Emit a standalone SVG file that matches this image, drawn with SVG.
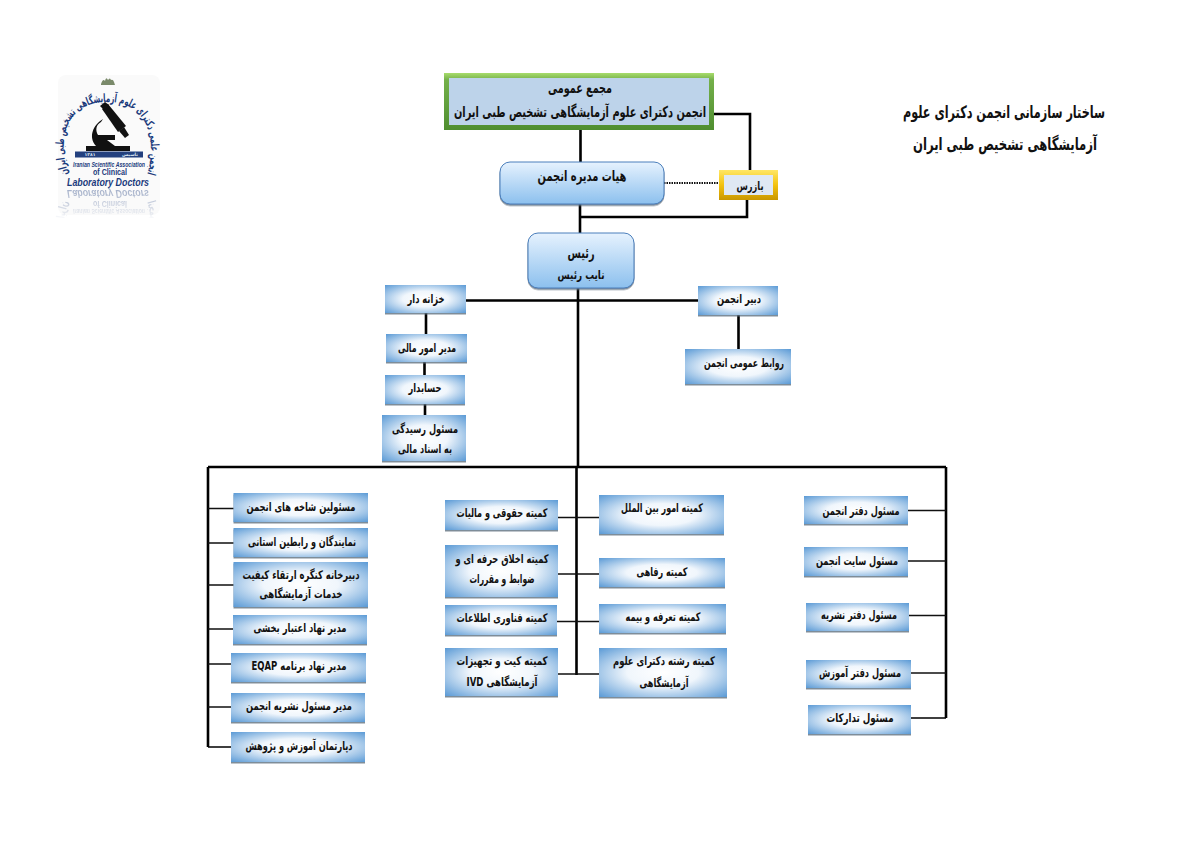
<svg xmlns="http://www.w3.org/2000/svg" width="1191" height="842" viewBox="0 0 1191 842">
<style>
text{font-family:"DejaVu Sans",sans-serif;font-weight:bold;fill:#111;text-anchor:middle;direction:rtl;font-size:12px}
.t{font-size:15px}
.big{font-size:17px}
.b{fill:url(#boxG);filter:url(#sh)}
.r{fill:url(#rndG);stroke:#4a7ebb;stroke-width:1;filter:url(#sh)}
.c{fill:none;stroke:#000;stroke-width:2.6}
.m{fill:none;stroke:#000;stroke-width:1.7}
.n{fill:none;stroke:#111;stroke-width:1.3}
.en{font-family:"Liberation Sans",sans-serif;direction:ltr;fill:#1b3a7c;font-style:italic}
.ring{fill:#1b3a7c;font-size:11.500px}
.tiny{font-size:4.500px;fill:#dfe8f3}
</style>
<defs>
<radialGradient id="boxG" cx=".5" cy=".5" r=".7"><stop offset="0" stop-color="#fff"/><stop offset=".4" stop-color="#f0f6fc"/><stop offset="1" stop-color="#5c9bd6"/></radialGradient>
<linearGradient id="rndG" x1="0" y1="0" x2="0" y2="1"><stop offset="0" stop-color="#e6f2fe"/><stop offset="1" stop-color="#8cc0ee"/></linearGradient>
<linearGradient id="grnG" x1="0" y1="0" x2="0" y2="1"><stop offset="0" stop-color="#a8dc6c"/><stop offset=".12" stop-color="#74b04a"/><stop offset="1" stop-color="#4f8e30"/></linearGradient>
<linearGradient id="yelG" x1="0" y1="0" x2="0" y2="1"><stop offset="0" stop-color="#ffe766"/><stop offset=".5" stop-color="#f3c20f"/><stop offset="1" stop-color="#c99700"/></linearGradient>
<filter id="sh" x="-5%" y="-5%" width="110%" height="120%"><feDropShadow dx="0" dy="1.500" stdDeviation=".7" flood-color="#5f6f80" flood-opacity=".8"/></filter>
<linearGradient id="fade" x1="0" y1="0" x2="0" y2="1"><stop offset="0" stop-color="#fff" stop-opacity=".4"/><stop offset="1" stop-color="#fff" stop-opacity=".03"/></linearGradient>
<mask id="fm" maskUnits="userSpaceOnUse" x="50" y="188" width="115" height="30"><rect x="50" y="188" width="115" height="30" fill="url(#fade)"/></mask>
<path id="arc" d="M70,178 C58,150 60,102 107,102 C154,102 156,150 146,178"/>
</defs>

<g id="connectors">
<path class="c" d="M580.500,129V162M714,114H750V170M580,204V233M747,200V217H580"/>
<path d="M664,183H719" fill="none" stroke="#111" stroke-width="2.200" stroke-dasharray="1.500 1"/>
<path class="c" d="M578,288V467M466,300.500H698M426,313V334M424.500,362V375M425,404V415M738.500,315V349"/>
<path class="c" d="M208,467H946M208,467V747M946,467V718M576.500,467V675"/>
<path class="m" d="M208,747H232M946,718H911"/>
<path class="n" d="M208,508.500H234M208,543H234M208,585H234M208,629H233M208,664H232M208,707H232"/>
<path class="n" d="M558,517.500H599M558,574H599M557,621.500H599M558,674H599"/>
<path class="n" d="M908,510.500H946M908,561H946M909,615.500H946M911,673H946"/>
</g>

<g id="n-majma"><rect x="444" y="73" width="270" height="57" fill="url(#grnG)"/><rect x="449" y="78" width="260" height="47" fill="#bdd3ea"/><text class="t" x="580" y="93" textLength="64" lengthAdjust="spacingAndGlyphs">مجمع عمومی</text><text class="t" x="580" y="117" textLength="252" lengthAdjust="spacingAndGlyphs">انجمن دکترای علوم آزمایشگاهی تشخیص طبی ایران</text></g>
<g id="n-hiat"><rect class="r" x="500" y="162" width="164" height="42" rx="10"/><text class="t" x="582" y="181" textLength="89" lengthAdjust="spacingAndGlyphs">هیات مدیره انجمن</text></g>
<g id="n-bazres"><rect x="719" y="170" width="59" height="30" fill="url(#yelG)"/><rect x="724" y="175" width="49" height="20" fill="#dfe8f3"/><text x="750" y="190" textLength="27" lengthAdjust="spacingAndGlyphs">بازرس</text></g>
<g id="n-rais"><rect class="r" x="528" y="233" width="106" height="55" rx="10"/><text x="581" y="258" textLength="27" lengthAdjust="spacingAndGlyphs" class="t">رئیس</text><text x="581" y="279" textLength="47" lengthAdjust="spacingAndGlyphs">نایب رئیس</text></g>

<g id="n-khazane"><rect class="b" x="385" y="285" width="81" height="28"/><text x="426" y="303" textLength="37" lengthAdjust="spacingAndGlyphs">خزانه دار</text></g>
<g id="n-omoor"><rect class="b" x="386" y="334" width="81" height="28"/><text x="427" y="352" textLength="58" lengthAdjust="spacingAndGlyphs">مدیر امور مالی</text></g>
<g id="n-hesabdar"><rect class="b" x="385" y="375" width="80" height="29"/><text x="425" y="392" textLength="33" lengthAdjust="spacingAndGlyphs">حسابدار</text></g>
<g id="n-residegi"><rect class="b" x="382" y="415" width="84" height="46"/><text x="425" y="433" textLength="66" lengthAdjust="spacingAndGlyphs">مسئول رسیدگی</text><text x="425" y="453" textLength="54" lengthAdjust="spacingAndGlyphs">به اسناد مالی</text></g>
<g id="n-dabir"><rect class="b" x="698" y="286" width="80" height="29"/><text x="739" y="303" textLength="44" lengthAdjust="spacingAndGlyphs">دبیر انجمن</text></g>
<g id="n-ravabet"><rect class="b" x="685" y="349" width="106" height="35"/><text x="744" y="367" textLength="80" lengthAdjust="spacingAndGlyphs">روابط عمومی انجمن</text></g>

<g id="n-l1"><rect class="b" x="233.500" y="493" width="134.500" height="29"/><text x="301" y="511" textLength="109" lengthAdjust="spacingAndGlyphs">مسئولین شاخه های انجمن</text></g>
<g id="n-l2"><rect class="b" x="233.500" y="528" width="134.500" height="29"/><text x="302" y="546" textLength="108" lengthAdjust="spacingAndGlyphs">نمایندگان و رابطین استانی</text></g>
<g id="n-l3"><rect class="b" x="233.500" y="562" width="134.500" height="45"/><text x="301" y="579" textLength="117" lengthAdjust="spacingAndGlyphs">دبیرخانه کنگره ارتقاء کیفیت</text><text x="301" y="598" textLength="83" lengthAdjust="spacingAndGlyphs">خدمات آزمایشگاهی</text></g>
<g id="n-l4"><rect class="b" x="233" y="615" width="134" height="29"/><text x="300" y="632" textLength="93" lengthAdjust="spacingAndGlyphs">مدیر نهاد اعتبار بخشی</text></g>
<g id="n-l5"><rect class="b" x="231" y="653" width="135" height="29"/><text x="299" y="670" textLength="95" lengthAdjust="spacingAndGlyphs">مدیر نهاد برنامه EQAP</text></g>
<g id="n-l6"><rect class="b" x="231" y="693" width="134" height="29"/><text x="299" y="710" textLength="106" lengthAdjust="spacingAndGlyphs">مدیر مسئول نشریه انجمن</text></g>
<g id="n-l7"><rect class="b" x="231" y="732" width="134" height="30"/><text x="299" y="750" textLength="107" lengthAdjust="spacingAndGlyphs">دپارتمان آموزش و پژوهش</text></g>

<g id="n-m1"><rect class="b" x="445" y="500" width="113" height="30"/><text x="502" y="517" textLength="91" lengthAdjust="spacingAndGlyphs">کمیته حقوقی و مالیات</text></g>
<g id="n-m2"><rect class="b" x="445" y="545" width="113" height="52"/><text x="502" y="563" textLength="93" lengthAdjust="spacingAndGlyphs">کمیته اخلاق حرفه ای و</text><text x="502" y="583" textLength="65" lengthAdjust="spacingAndGlyphs">ضوابط و مقررات</text></g>
<g id="n-m3"><rect class="b" x="445" y="605" width="112" height="30"/><text x="502" y="622" textLength="91" lengthAdjust="spacingAndGlyphs">کمیته فناوری اطلاعات</text></g>
<g id="n-m4"><rect class="b" x="445" y="648" width="113" height="48"/><text x="502" y="665" textLength="91" lengthAdjust="spacingAndGlyphs">کمیته کیت و تجهیزات</text><text x="502" y="686" textLength="71" lengthAdjust="spacingAndGlyphs">آزمایشگاهی IVD</text></g>
<g id="n-m5"><rect class="b" x="599" y="495" width="125" height="39"/><text x="662" y="512" textLength="82" lengthAdjust="spacingAndGlyphs">کمیته امور بین الملل</text></g>
<g id="n-m6"><rect class="b" x="599" y="558" width="126" height="29"/><text x="662" y="576" textLength="51" lengthAdjust="spacingAndGlyphs">کمیته رفاهی</text></g>
<g id="n-m7"><rect class="b" x="599" y="604" width="127" height="29"/><text x="663" y="621" textLength="75" lengthAdjust="spacingAndGlyphs">کمیته تعرفه و بیمه</text></g>
<g id="n-m8"><rect class="b" x="599" y="648" width="128" height="49"/><text x="664" y="665" textLength="102" lengthAdjust="spacingAndGlyphs">کمیته رشته دکترای علوم</text><text x="664" y="687" textLength="49" lengthAdjust="spacingAndGlyphs">آزمایشگاهی</text></g>

<g id="n-r1"><rect class="b" x="804" y="496" width="104" height="28"/><text x="861" y="515" textLength="77" lengthAdjust="spacingAndGlyphs">مسئول دفتر انجمن</text></g>
<g id="n-r2"><rect class="b" x="804" y="547" width="104" height="29"/><text x="857" y="565" textLength="82" lengthAdjust="spacingAndGlyphs">مسئول سایت انجمن</text></g>
<g id="n-r3"><rect class="b" x="806" y="603" width="103" height="28"/><text x="859" y="619" textLength="76" lengthAdjust="spacingAndGlyphs">مسئول دفتر نشریه</text></g>
<g id="n-r4"><rect class="b" x="806" y="660" width="105" height="28"/><text x="860" y="677" textLength="82" lengthAdjust="spacingAndGlyphs">مسئول دفتر آموزش</text></g>
<g id="n-r5"><rect class="b" x="808" y="705" width="103" height="29"/><text x="860" y="722" textLength="67" lengthAdjust="spacingAndGlyphs">مسئول تدارکات</text></g>

<g id="title"><text class="big" x="1004" y="118" textLength="202" lengthAdjust="spacingAndGlyphs">ساختار سازمانی انجمن دکترای علوم</text><text class="big" x="1005" y="150" textLength="184" lengthAdjust="spacingAndGlyphs">آزمایشگاهی تشخیص طبی ایران</text></g>

<g id="logo">
<rect x="58" y="75" width="102" height="140" rx="8" fill="#fafafa"/>
<g mask="url(#fm)"><use href="#logo-main" transform="translate(0,376) scale(1,-1)"/></g>
<g id="logo-main">
<path d="M101,84q2,-6 4,-3q1,-5 3,-1q2,-3 3,0q2,-1 3,2l1,3h-14z" fill="#7a8a6a"/>
<text class="ring"><textPath href="#arc" startOffset="50%" textLength="196" lengthAdjust="spacingAndGlyphs">انجمن علمی دکترای علوم آزمایشگاهی تشخیص طبی ایران</textPath></text>
<g fill="#111" stroke="none">
<path d="M102,109l6,-5l18,22l-8,6z"/>
<path d="M100,106l5,-4l4,3l-5,5z"/>
<path d="M119,131l5,-4l5,8l-4,3z"/>
<path d="M103,119c-10,6 -15,18 -7,27h-10v5h44v-5h-15l-8,-6h8v-5h-17c-3,-5 -2,-10 3,-13z"/>
</g>
<rect x="75" y="151.500" width="68" height="6" fill="#23407e"/>
<text class="tiny" x="90" y="156.300">۱۳۸۱</text><text class="tiny" x="130" y="156.300">تاسیس</text>
<text class="en" x="109" y="167" style="font-size:7px" textLength="72" lengthAdjust="spacingAndGlyphs">Iranian Scientific Association</text>
<text class="en" x="110" y="175" style="font-size:8.500px;font-style:normal" textLength="34" lengthAdjust="spacingAndGlyphs">of Clinical</text>
<text class="en" x="108" y="186" style="font-size:11.500px" textLength="82" lengthAdjust="spacingAndGlyphs">Laboratory Doctors</text>
</g>
</g>
</svg>
